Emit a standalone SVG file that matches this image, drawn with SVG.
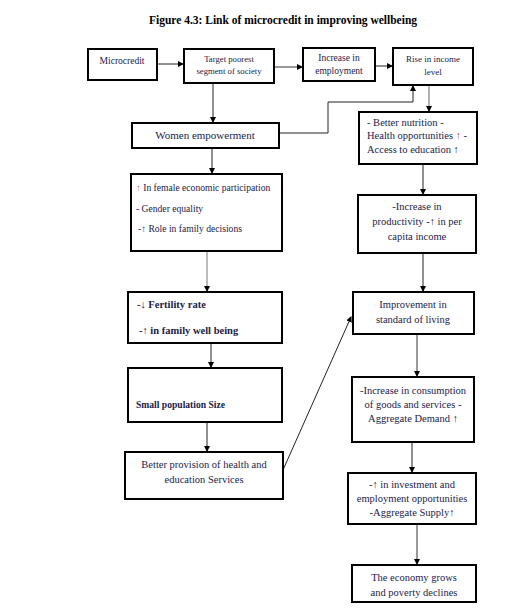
<svg xmlns="http://www.w3.org/2000/svg" width="506" height="612" viewBox="0 0 506 612">
<style>
.box{fill:#fff;stroke:#000;stroke-width:2}
text{font-family:"Liberation Serif","Times New Roman",serif;fill:#1c2248}
.t{font-size:10.5px}
.s{font-size:9.5px}
.c{text-anchor:middle}
.b{font-weight:bold}
.ln{fill:none;stroke:#222;stroke-width:1}
.gl{fill:none;stroke:#999;stroke-width:2}
.up{fill:#c0504d}
</style>
<defs>
<marker id="ah" markerWidth="6" markerHeight="6" refX="5" refY="3" orient="auto" markerUnits="userSpaceOnUse"><path d="M0,0 L6,3 L0,6 Z" fill="#000"/></marker>
</defs>
<rect width="506" height="612" fill="#fff"/>
<text x="283" y="24" class="c b" style="font-size:11.5px;fill:#000">Figure 4.3: Link of microcredit in improving wellbeing</text>

<g id="connectors">
<line x1="157" y1="64" x2="183" y2="64" class="ln" marker-end="url(#ah)"/>
<line x1="274" y1="67" x2="302" y2="67" class="gl" marker-end="url(#ah)"/>
<line x1="375" y1="66" x2="392" y2="66" class="ln" marker-end="url(#ah)"/>
<line x1="213" y1="83" x2="213" y2="122" class="ln" marker-end="url(#ah)"/>
<polyline points="279,133 328,133 328,102 413,102 413,86" class="ln" marker-end="url(#ah)"/>
<line x1="429" y1="85" x2="429" y2="111" class="gl" style="stroke-width:1.5" marker-end="url(#ah)"/>
<line x1="423" y1="164" x2="423" y2="194" class="ln" marker-end="url(#ah)"/>
<line x1="423" y1="253" x2="423" y2="291" class="ln" marker-end="url(#ah)"/>
<line x1="417" y1="334" x2="417" y2="376" class="gl" marker-end="url(#ah)"/>
<line x1="412" y1="442" x2="412" y2="472" class="ln" marker-end="url(#ah)"/>
<line x1="417" y1="524" x2="417" y2="564" class="gl" marker-end="url(#ah)"/>
<line x1="212" y1="148" x2="212" y2="173" class="ln" marker-end="url(#ah)"/>
<line x1="207" y1="251" x2="207" y2="291" class="ln" marker-end="url(#ah)" style="stroke:#777"/>
<line x1="211" y1="343" x2="211" y2="367" class="ln" marker-end="url(#ah)"/>
<line x1="207" y1="422" x2="207" y2="451" class="ln" marker-end="url(#ah)"/>
<line x1="283" y1="470" x2="351" y2="317" class="ln" marker-end="url(#ah)"/>
</g>

<g id="n-microcredit"><rect x="88" y="49" width="69" height="31" class="box"/><text x="122" y="64" class="s c">Microcredit</text></g>
<g id="n-target"><rect x="184" y="49" width="90" height="34" class="box"/><text x="229" y="62" class="c" style="font-size:8.7px">Target poorest</text><text x="229" y="74" class="c" style="font-size:8.7px">segment of society</text></g>
<g id="n-employment"><rect x="303" y="48" width="72" height="33" class="box"/><text x="339" y="61" class="s c">Increase in</text><text x="339" y="74" class="s c">employment</text></g>
<g id="n-income"><rect x="393" y="48" width="80" height="37" class="box"/><text x="433" y="62" class="c" style="font-size:9px">Rise in income</text><text x="433" y="75" class="c" style="font-size:9px">level</text></g>
<g id="n-women"><rect x="132" y="123" width="147" height="25" class="box"/><text x="205" y="139" class="c" style="font-size:11px">Women empowerment</text></g>
<g id="n-nutrition"><rect x="359" y="112" width="118" height="52" class="box"/>
<text x="367" y="126" class="t">- Better nutrition -</text>
<text x="367" y="139" class="t">Health opportunities <tspan class="up">↑</tspan> -</text>
<text x="367" y="153" class="t">Access to education   ↑</text></g>
<g id="n-female"><rect x="131" y="174" width="151" height="77" class="box"/>
<text x="136" y="191" style="font-size:9.6px"><tspan class="up">↑</tspan> In female economic participation</text>
<text x="136" y="212" style="font-size:9.6px">- Gender equality</text>
<text x="138" y="232" style="font-size:9.6px">-↑ Role in family decisions</text></g>
<g id="n-productivity"><rect x="358" y="195" width="118" height="58" class="box"/>
<text x="417" y="210" class="t c">-Increase in</text>
<text x="417" y="225" class="t c">productivity -↑ in per</text>
<text x="417" y="240" class="t c">capita income</text></g>
<g id="n-fertility"><rect x="128" y="292" width="154" height="51" class="box"/>
<text x="137" y="308" class="b" style="font-size:10.5px">-↓ Fertility rate</text>
<text x="139" y="334" class="b" style="font-size:10.5px">-↑ in family well being</text></g>
<g id="n-standard"><rect x="353" y="292" width="121" height="42" class="box"/>
<text x="413" y="308" class="t c">Improvement in</text>
<text x="413" y="323" class="t c">standard of living</text></g>
<g id="n-population"><rect x="128" y="368" width="154" height="54" class="box"/>
<text x="136" y="408" class="b" style="font-size:9.6px">Small population Size</text></g>
<g id="n-consumption"><rect x="352" y="377" width="122" height="65" class="box"/>
<text x="413" y="394" class="t c">-Increase in consumption</text>
<text x="413" y="408" class="t c">of goods and services -</text>
<text x="413" y="422" class="t c">Aggregate Demand ↑</text></g>
<g id="n-provision"><rect x="125" y="452" width="158" height="47" class="box"/>
<text x="204" y="468" class="t c">Better provision of health and</text>
<text x="204" y="483" class="t c">education Services</text></g>
<g id="n-investment"><rect x="348" y="473" width="128" height="51" class="box"/>
<text x="412" y="488" class="t c">-↑ in investment and</text>
<text x="412" y="502" class="t c">employment opportunities</text>
<text x="412" y="516" class="t c">-Aggregate Supply↑</text></g>
<g id="n-economy"><rect x="352" y="565" width="124" height="37" class="box"/>
<text x="414" y="581" class="t c">The economy grows</text>
<text x="414" y="596" class="t c">and poverty declines</text></g>
</svg>
